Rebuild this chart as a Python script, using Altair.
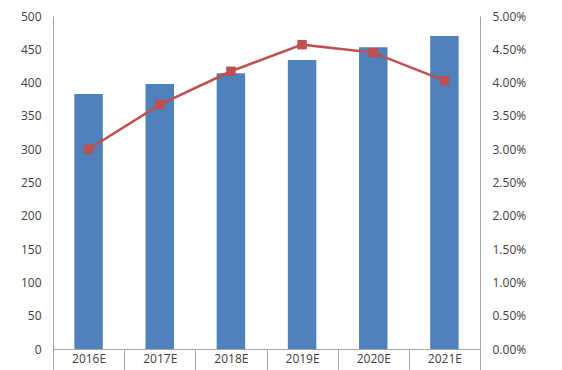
import altair as alt
import pandas as pd

years = ["2016E", "2017E", "2018E", "2019E", "2020E", "2021E"]
values = [383, 398, 414, 434, 453, 470]
rates = [0.0300, 0.0367, 0.0417, 0.0457, 0.0445, 0.0403]

df = pd.DataFrame({"year": years, "value": values, "rate": rates})

FONT = "Open Sans"
LABEL = "#404040"
AXIS = "#A6A6A6"
BAR = "#4F81BD"
RED = "#C0504D"

x = alt.X("year:N", sort=years, title=None,
          scale=alt.Scale(paddingInner=0, paddingOuter=0),
          axis=alt.Axis(labelAngle=0, tickBand="extent", tickSize=21,
                        tickColor=AXIS, domainColor=AXIS, labelPadding=-17,
                        labelFont=FONT, labelFontSize=12, labelColor=LABEL))

bars = alt.Chart(df).mark_bar(color=BAR, width={"band": 0.4}).encode(
    x=x,
    y=alt.Y("value:Q", title=None,
            scale=alt.Scale(domain=[0, 500]),
            axis=alt.Axis(values=list(range(0, 501, 50)), grid=False, ticks=False,
                          domainColor=AXIS, labelPadding=12,
                          labelFont=FONT, labelFontSize=12, labelColor=LABEL)),
)

line = alt.Chart(df).mark_line(
    color=RED, strokeWidth=2.5,
    point=alt.OverlayMarkDef(shape="square", filled=True, color=RED, size=90, opacity=1),
).encode(
    x=x,
    y=alt.Y("rate:Q", title=None,
            scale=alt.Scale(domain=[0, 0.05]),
            axis=alt.Axis(orient="right", values=[i * 0.005 for i in range(11)],
                          format=".2%", grid=False, ticks=False,
                          domainColor=AXIS, labelPadding=12,
                          labelFont=FONT, labelFontSize=12, labelColor=LABEL)),
)

chart = alt.layer(bars, line).resolve_scale(y="independent").properties(
    width=427, height=333,
    autosize=alt.AutoSizeParams(type="none"),
    padding={"left": 45, "top": 8, "right": 74, "bottom": 21},
).configure(background="white").configure_view(stroke=None)

chart.save("out.html", embed_options={"renderer": "svg", "actions": False})
